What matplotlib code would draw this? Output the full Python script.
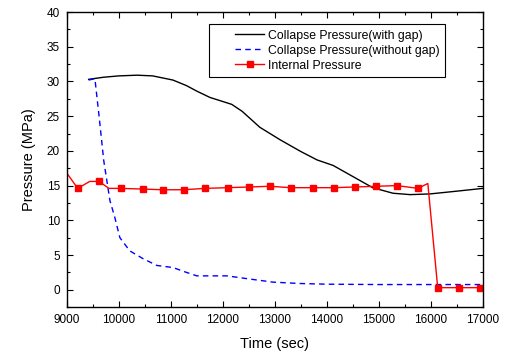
import numpy as np
import matplotlib.pyplot as plt
from matplotlib.ticker import MultipleLocator

plt.rcParams['font.family'] = ['Liberation Sans', 'DejaVu Sans']

# collapse pressure with gap
t_gap = [9420, 9700, 10000, 10350, 10650, 11040, 11300, 11500, 11750, 12170, 12370,
         12710, 13100, 13500, 13810, 14120, 14500, 14880, 15270, 15600, 15980, 16500, 17000]
p_gap = [30.3, 30.6, 30.8, 30.9, 30.8, 30.2, 29.4, 28.6, 27.7, 26.7, 25.7,
         23.4, 21.6, 19.9, 18.7, 17.9, 16.3, 14.7, 13.9, 13.7, 13.8, 14.2, 14.6]

# collapse pressure without gap
t_nogap = [9420, 9540, 9620, 9710, 9830, 9920, 10020, 10210, 10460, 10730, 11040,
           11300, 11500, 12080, 12460, 12960, 13480, 14000, 15000, 16000, 17000]
p_nogap = [30.2, 30.4, 25.0, 18.6, 12.8, 10.5, 7.5, 5.6, 4.5, 3.5, 3.2,
           2.5, 2.0, 2.0, 1.6, 1.1, 0.9, 0.8, 0.75, 0.75, 0.75]

# internal pressure
t_int = [9000, 9210, 9440, 9620, 9810, 10040, 10460, 10850, 11250, 11650, 12100,
         12500, 12900, 13310, 13730, 14130, 14540, 14940, 15350, 15750, 15940,
         16130, 16540, 16940]
p_int = [16.8, 14.6, 15.6, 15.6, 14.6, 14.6, 14.5, 14.4, 14.4, 14.6, 14.7,
         14.8, 14.9, 14.7, 14.7, 14.7, 14.8, 14.9, 15.0, 14.6, 15.3,
         0.3, 0.3, 0.3]
marks = [1, 3, 5, 6, 7, 8, 9, 10, 11, 12, 13, 14, 15, 16, 17, 18, 19, 21, 22, 23]

fig = plt.figure(figsize=(5.10, 3.53), dpi=100)
ax = fig.add_axes([0.131, 0.130, 0.816, 0.836])

ax.plot(t_gap, p_gap, color='black', lw=1.0, label='Collapse Pressure(with gap)')
ax.plot(t_nogap, p_nogap, color='blue', lw=1.0, ls=(0, (4, 3)), label='Collapse Pressure(without gap)')
ax.plot(t_int, p_int, color='red', lw=1.0, marker='s', ms=4, markevery=marks,
        label='Internal Pressure')

ax.set_xlim(9000, 17000)
ax.set_ylim(-2.5, 40)
ax.xaxis.set_major_locator(MultipleLocator(1000))
ax.xaxis.set_minor_locator(MultipleLocator(500))
ax.yaxis.set_major_locator(MultipleLocator(5))
ax.yaxis.set_minor_locator(MultipleLocator(2.5))
ax.tick_params(which='both', direction='in', top=True, right=True, labelsize=8.5,
               width=0.8, pad=5)
ax.tick_params(which='major', length=4)
ax.tick_params(which='minor', length=2.5)
for s in ax.spines.values():
    s.set_linewidth(1.0)

ax.set_xlabel('Time (sec)', fontsize=10.5, labelpad=8)
ax.set_ylabel('Pressure (MPa)', fontsize=10.5, labelpad=8)

leg = ax.legend(loc='upper right', bbox_to_anchor=(0.909, 0.959), borderaxespad=0,
                fontsize=8.8, fancybox=False, edgecolor='black', framealpha=1,
                handlelength=4.1, handletextpad=0.3, borderpad=0.45, labelspacing=0.25)
leg.get_frame().set_linewidth(0.8)
# leave a gap to the left of the legend handles, as in the original
for ln in leg.get_lines():
    x = ln.get_xdata()
    ln.set_xdata(np.linspace(x[0] + (x[-1] - x[0]) * 0.42, x[-1], len(x)))

plt.savefig('out.png', dpi=100)
